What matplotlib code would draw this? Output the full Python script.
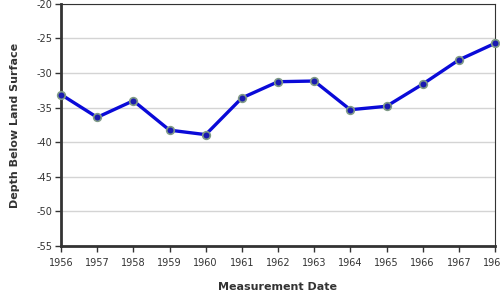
import matplotlib
matplotlib.use('Agg')
import matplotlib.pyplot as plt

# values
years = [1956, 1957, 1958, 1959, 1960, 1961, 1962, 1963, 1964, 1965, 1966, 1967, 1968]
depth = [-33.1, -36.4, -34.0, -38.25, -38.9, -33.6, -31.25, -31.15, -35.3, -34.8, -31.6, -28.1, -25.7]
y_ticks = [-20, -25, -30, -35, -40, -45, -50, -55]

plt.rcParams['font.family'] = 'DejaVu Sans'
plt.rcParams['axes.unicode_minus'] = False

fig = plt.figure(figsize=(5, 3), dpi=100)
ax = fig.add_axes([0.122, 0.18, 0.868, 0.807])

ax.plot(years, depth, color='#0a0ad8', lw=2.4, marker='o', ms=5.5,
        mfc='#1a1ab0', mec='#7f9a86', mew=1.2, zorder=3, clip_on=False)

ax.set_xlim(1956, 1968)
ax.set_ylim(-55, -20)
ax.set_xticks(years)
ax.set_yticks(y_ticks)
ax.tick_params(axis='both', labelsize=7, colors='#333333', length=4, width=1, pad=2)
ax.tick_params(axis='x', pad=5)
ax.grid(axis='y', color='#d4d4d4', lw=1)
ax.set_axisbelow(True)

for side in ['left', 'bottom']:
    ax.spines[side].set_linewidth(2)
    ax.spines[side].set_color('#333333')
for side in ['top', 'right']:
    ax.spines[side].set_linewidth(0.8)
    ax.spines[side].set_color('#333333')

ax.set_xlabel('Measurement Date', fontsize=8, fontweight='bold', color='#333333', labelpad=10)
ax.set_ylabel('Depth Below Land Surface', fontsize=8, fontweight='bold', color='#333333', labelpad=12)

fig.savefig('out.png', dpi=100)
